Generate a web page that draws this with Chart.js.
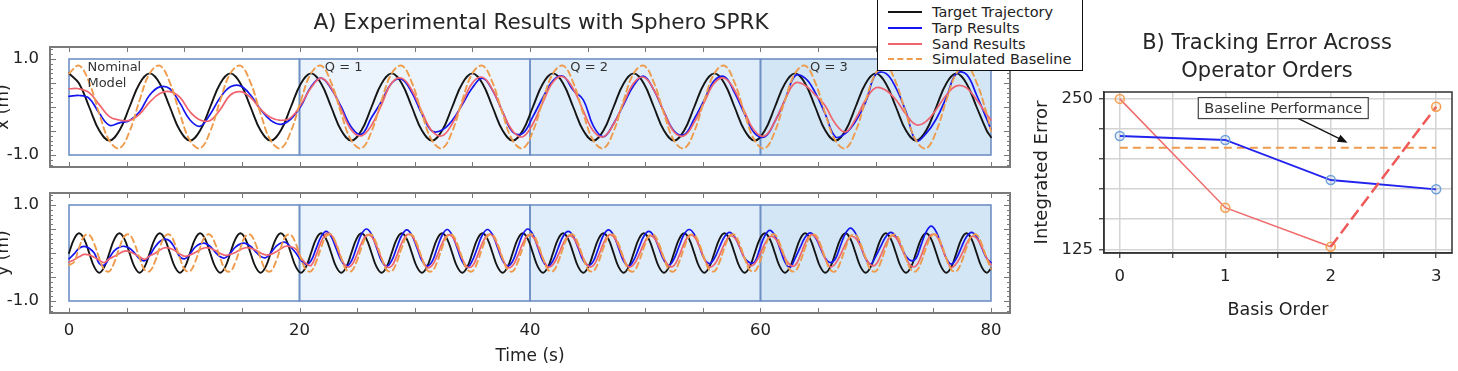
<!DOCTYPE html>
<html>
<head>
<meta charset="utf-8">
<script src="https://cdn.jsdelivr.net/npm/chart.js@4.4.0/dist/chart.umd.min.js"></script>
<style>
  body { margin: 0; background: #fff; width: 1458px; height: 371px; overflow: hidden; position: relative; font-family: "DejaVu Sans", sans-serif; }
  canvas { position: absolute; }
  .title { position: absolute; color: #262626; text-align: center; white-space: nowrap; z-index: 2; }
  #legend { position: absolute; left: 877px; top: -1px; width: 204px; height: 70px; border: 1.5px solid #111; background: #fff; z-index: 3; }
  #legend .item { position: absolute; left: 0; height: 16px; line-height: 16px; font-size: 14.5px; color: #222; white-space: nowrap; }
  #legend .swatch { position: absolute; left: 10px; top: 7px; width: 34px; height: 0; }
  #legend .label { position: absolute; left: 54px; top: 0; }
</style>
</head>
<body>
<div class="title" style="left:241px; top:9px; width:600px; font-size:21.5px; line-height:26px;">A) Experimental Results with Sphero SPRK</div>
<div class="title" style="left:1067px; top:28px; width:400px; font-size:21px; line-height:28px;">B) Tracking Error Across<br>Operator Orders</div>
<div id="legend">
  <div class="item" style="top:4px"><span class="swatch" style="border-top:2px solid #151515"></span><span class="label">Target Trajectory</span></div>
  <div class="item" style="top:19.5px"><span class="swatch" style="border-top:2px solid #1515f0"></span><span class="label">Tarp Results</span></div>
  <div class="item" style="top:35.5px"><span class="swatch" style="border-top:2px solid #f0646e"></span><span class="label">Sand Results</span></div>
  <div class="item" style="top:51px"><span class="swatch" style="border-top:2px dashed #ef9b4c"></span><span class="label">Simulated Baseline</span></div>
</div>
<canvas id="cx" width="1020" height="180" style="left:0; top:0;"></canvas>
<canvas id="cy" width="1020" height="191" style="left:0; top:180px;"></canvas>
<canvas id="ce" width="438" height="243" style="left:1020px; top:80px;"></canvas>
<script>
// ---- panel A : sample steps (s) ----
const xStep = 0.875;   // x (m) panel
const yStep = 0.4375;  // y (m) panel
const regionEdges = [0, 20, 40, 60, 80];
const timeTicks = [0, 20, 40, 60, 80];
const posTicks = [-1, 1];

// x (m)
const xTarget = [
  0.70, 0.49, 0, -0.49, -0.70, -0.49, 0, 0.49,
  0.70, 0.49, 0, -0.49, -0.70, -0.49, 0, 0.49,
  0.70, 0.49, 0, -0.49, -0.70, -0.49, 0, 0.49,
  0.70, 0.49, 0, -0.49, -0.70, -0.49, 0, 0.49,
  0.70, 0.49, 0, -0.49, -0.70, -0.49, 0, 0.49,
  0.70, 0.49, 0, -0.49, -0.70, -0.49, 0, 0.49,
  0.70, 0.49, 0, -0.49, -0.70, -0.49, 0, 0.49,
  0.70, 0.49, 0, -0.49, -0.70, -0.49, 0, 0.49,
  0.70, 0.49, 0, -0.49, -0.70, -0.49, 0, 0.49,
  0.70, 0.49, 0, -0.49, -0.70, -0.49, 0, 0.49,
  0.70, 0.49, 0, -0.49, -0.70, -0.49, 0, 0.49,
  0.70, 0.49, 0, -0.49, -0.63
];
const xTarp = [
  0.22, 0.24, 0.18, -0.13, -0.38, -0.33, -0.28, -0.10,
  0.25, 0.42, 0.38, 0.08, -0.27, -0.40, -0.15, 0.20,
  0.42, 0.44, 0.25, -0.05, -0.28, -0.36, -0.25, 0.02,
  0.42, 0.60, 0.38, 0.00, -0.42, -0.57, -0.22, 0.12,
  0.50, 0.58, 0.30, -0.15, -0.50, -0.48, -0.28, 0.05,
  0.40, 0.60, 0.35, -0.10, -0.52, -0.55, -0.20, 0.20,
  0.55, 0.64, 0.35, 0.15, -0.40, -0.62, -0.35, 0.05,
  0.45, 0.64, 0.35, -0.10, -0.50, -0.58, -0.25, 0.15,
  0.55, 0.63, 0.30, -0.15, -0.55, -0.62, -0.30, 0.15,
  0.65, 0.60, 0.30, -0.15, -0.62, -0.55, -0.30, 0.10,
  0.68, 0.70, 0.40, -0.10, -0.70, -0.55, -0.25, 0.20,
  0.70, 0.68, 0.25, -0.25, -0.47
];
const xSand = [
  0.38, 0.38, 0.30, 0.05, -0.20, -0.27, -0.28, -0.15,
  0.10, 0.28, 0.32, 0.20, -0.10, -0.27, -0.28, -0.05,
  0.25, 0.32, 0.20, -0.05, -0.22, -0.28, -0.22, 0.05,
  0.40, 0.60, 0.40, -0.05, -0.48, -0.60, -0.38, 0.05,
  0.50, 0.60, 0.35, -0.10, -0.50, -0.60, -0.35, 0.08,
  0.50, 0.62, 0.36, -0.10, -0.50, -0.62, -0.35, 0.10,
  0.52, 0.63, 0.38, -0.08, -0.50, -0.62, -0.36, 0.08,
  0.50, 0.62, 0.36, -0.10, -0.52, -0.60, -0.32, 0.10,
  0.50, 0.60, 0.35, -0.10, -0.50, -0.60, -0.30, 0.15,
  0.50, 0.45, 0.25, 0.02, -0.35, -0.52, -0.25, 0.15,
  0.40, 0.35, 0.15, -0.15, -0.37, -0.30, -0.05, 0.25,
  0.44, 0.40, 0.15, -0.15, -0.27
];
const xBaseline = [
  0.70, 0.86, 0.51, -0.14, -0.70, -0.86, -0.51, 0.14,
  0.70, 0.86, 0.51, -0.14, -0.70, -0.86, -0.51, 0.14,
  0.70, 0.86, 0.51, -0.14, -0.70, -0.86, -0.51, 0.14,
  0.70, 0.86, 0.51, -0.14, -0.70, -0.86, -0.51, 0.14,
  0.70, 0.86, 0.51, -0.14, -0.70, -0.86, -0.51, 0.14,
  0.70, 0.86, 0.51, -0.14, -0.70, -0.86, -0.51, 0.14,
  0.70, 0.86, 0.51, -0.14, -0.70, -0.86, -0.51, 0.14,
  0.70, 0.86, 0.51, -0.14, -0.70, -0.86, -0.51, 0.14,
  0.70, 0.86, 0.51, -0.14, -0.70, -0.86, -0.51, 0.14,
  0.70, 0.86, 0.51, -0.14, -0.70, -0.86, -0.51, 0.14,
  0.70, 0.86, 0.51, -0.14, -0.70, -0.86, -0.51, 0.14,
  0.70, 0.86, 0.51, -0.14, -0.50
];

// y (m)
const yTarget = [
  0, 0.29, 0.41, 0.29, 0, -0.29, -0.41, -0.29,
  0, 0.29, 0.41, 0.29, 0, -0.29, -0.41, -0.29,
  0, 0.29, 0.41, 0.29, 0, -0.29, -0.41, -0.29,
  0, 0.29, 0.41, 0.29, 0, -0.29, -0.41, -0.29,
  0, 0.29, 0.41, 0.29, 0, -0.29, -0.41, -0.29,
  0, 0.29, 0.41, 0.29, 0, -0.29, -0.41, -0.29,
  0, 0.29, 0.41, 0.29, 0, -0.29, -0.41, -0.29,
  0, 0.29, 0.41, 0.29, 0, -0.29, -0.41, -0.29,
  0, 0.29, 0.41, 0.29, 0, -0.29, -0.41, -0.29,
  0, 0.29, 0.41, 0.29, 0, -0.29, -0.41, -0.29,
  0, 0.29, 0.41, 0.29, 0, -0.29, -0.41, -0.29,
  0, 0.29, 0.41, 0.29, 0, -0.29, -0.41, -0.29,
  0, 0.29, 0.41, 0.29, 0, -0.29, -0.41, -0.29,
  0, 0.29, 0.41, 0.29, 0, -0.29, -0.41, -0.29,
  0, 0.29, 0.41, 0.29, 0, -0.29, -0.41, -0.29,
  0, 0.29, 0.41, 0.29, 0, -0.29, -0.41, -0.29,
  0, 0.29, 0.41, 0.29, 0, -0.29, -0.41, -0.29,
  0, 0.29, 0.41, 0.29, 0, -0.29, -0.41, -0.29,
  0, 0.29, 0.41, 0.29, 0, -0.29, -0.41, -0.29,
  0, 0.29, 0.41, 0.29, 0, -0.29, -0.41, -0.29,
  0, 0.29, 0.41, 0.29, 0, -0.29, -0.41, -0.29,
  0, 0.29, 0.41, 0.29, 0, -0.29, -0.41, -0.29,
  0, 0.29, 0.41, 0.29, 0, -0.29, -0.41, -0.32
];
const yTarp = [
  -0.12, -0.02, 0.10, 0.14, 0.10, 0.00, -0.22, -0.25,
  -0.10, 0.05, 0.12, 0.14, 0.10, 0.00, -0.12, -0.16,
  -0.05, 0.12, 0.24, 0.29, 0.25, 0.10, -0.08, -0.12,
  -0.02, 0.12, 0.19, 0.20, 0.14, 0.02, -0.08, -0.10,
  0.00, 0.12, 0.19, 0.20, 0.14, 0.03, -0.07, -0.10,
  0.00, 0.13, 0.21, 0.22, 0.12, 0.00, -0.15, -0.24,
  -0.16, 0.09, 0.34, 0.45, 0.34, 0.09, -0.16, -0.27,
  -0.17, 0.11, 0.39, 0.50, 0.39, 0.11, -0.17, -0.28,
  -0.16, 0.11, 0.37, 0.48, 0.37, 0.11, -0.16, -0.27,
  -0.18, 0.10, 0.37, 0.49, 0.37, 0.10, -0.18, -0.30,
  -0.16, 0.11, 0.38, 0.49, 0.38, 0.11, -0.16, -0.27,
  -0.17, 0.11, 0.39, 0.50, 0.39, 0.11, -0.17, -0.28,
  -0.16, 0.10, 0.35, 0.45, 0.35, 0.10, -0.16, -0.26,
  -0.17, 0.10, 0.37, 0.48, 0.37, 0.10, -0.17, -0.28,
  -0.15, 0.10, 0.35, 0.45, 0.35, 0.10, -0.15, -0.25,
  -0.12, 0.14, 0.39, 0.49, 0.39, 0.14, -0.12, -0.22,
  -0.11, 0.12, 0.34, 0.43, 0.34, 0.12, -0.11, -0.20,
  -0.19, 0.09, 0.36, 0.47, 0.36, 0.09, -0.19, -0.30,
  -0.11, 0.11, 0.33, 0.42, 0.33, 0.11, -0.11, -0.20,
  -0.12, 0.15, 0.41, 0.52, 0.41, 0.15, -0.12, -0.23,
  -0.07, 0.14, 0.34, 0.43, 0.34, 0.14, -0.07, -0.16,
  -0.11, 0.17, 0.44, 0.56, 0.44, 0.17, -0.11, -0.23,
  -0.11, 0.12, 0.34, 0.43, 0.34, 0.12, -0.11, -0.20
];
const ySand = [
  -0.19, -0.14, -0.08, -0.03, -0.04, -0.09, -0.15, -0.20,
  -0.12, -0.07, -0.01, 0.04, 0.03, -0.02, -0.08, -0.13,
  -0.06, -0.01, 0.06, 0.11, 0.10, 0.05, -0.02, -0.07,
  -0.04, 0.01, 0.07, 0.11, 0.10, 0.05, -0.01, -0.05,
  -0.03, 0.01, 0.07, 0.11, 0.10, 0.06, 0.00, -0.04,
  -0.03, 0.02, 0.09, 0.14, 0.13, 0.08, -0.10, -0.22,
  -0.26, -0.05, 0.23, 0.40, 0.38, 0.17, -0.11, -0.28,
  -0.26, -0.06, 0.20, 0.37, 0.34, 0.14, -0.12, -0.29,
  -0.27, -0.06, 0.21, 0.38, 0.36, 0.15, -0.12, -0.30,
  -0.26, -0.06, 0.20, 0.37, 0.34, 0.14, -0.12, -0.29,
  -0.27, -0.06, 0.21, 0.38, 0.36, 0.15, -0.12, -0.30,
  -0.26, -0.06, 0.20, 0.37, 0.34, 0.14, -0.12, -0.29,
  -0.24, -0.05, 0.19, 0.35, 0.32, 0.13, -0.11, -0.27,
  -0.26, -0.06, 0.20, 0.37, 0.34, 0.14, -0.12, -0.29,
  -0.24, -0.05, 0.19, 0.35, 0.32, 0.13, -0.11, -0.27,
  -0.26, -0.06, 0.20, 0.37, 0.34, 0.14, -0.12, -0.29,
  -0.24, -0.05, 0.19, 0.35, 0.32, 0.13, -0.11, -0.27,
  -0.22, -0.04, 0.19, 0.34, 0.31, 0.13, -0.10, -0.25,
  -0.26, -0.06, 0.20, 0.37, 0.34, 0.14, -0.12, -0.29,
  -0.22, -0.04, 0.19, 0.34, 0.31, 0.13, -0.10, -0.25,
  -0.24, -0.05, 0.19, 0.35, 0.32, 0.13, -0.11, -0.27,
  -0.27, -0.06, 0.21, 0.38, 0.36, 0.15, -0.12, -0.30,
  -0.22, -0.04, 0.19, 0.34, 0.31, 0.13, -0.10, -0.25
];
const yBaseline = [
  -0.25, -0.19, 0.11, 0.35, 0.38, 0.19, -0.11, -0.35,
  -0.38, -0.19, 0.11, 0.35, 0.38, 0.19, -0.11, -0.35,
  -0.38, -0.19, 0.11, 0.35, 0.38, 0.19, -0.11, -0.35,
  -0.38, -0.19, 0.11, 0.35, 0.38, 0.19, -0.11, -0.35,
  -0.38, -0.19, 0.11, 0.35, 0.38, 0.19, -0.11, -0.35,
  -0.38, -0.19, 0.11, 0.35, 0.38, 0.19, -0.11, -0.35,
  -0.38, -0.19, 0.11, 0.35, 0.38, 0.19, -0.11, -0.35,
  -0.38, -0.19, 0.11, 0.35, 0.38, 0.19, -0.11, -0.35,
  -0.38, -0.19, 0.11, 0.35, 0.38, 0.19, -0.11, -0.35,
  -0.38, -0.19, 0.11, 0.35, 0.38, 0.19, -0.11, -0.35,
  -0.38, -0.19, 0.11, 0.35, 0.38, 0.19, -0.11, -0.35,
  -0.38, -0.19, 0.11, 0.35, 0.38, 0.19, -0.11, -0.35,
  -0.38, -0.19, 0.11, 0.35, 0.38, 0.19, -0.11, -0.35,
  -0.38, -0.19, 0.11, 0.35, 0.38, 0.19, -0.11, -0.35,
  -0.38, -0.19, 0.11, 0.35, 0.38, 0.19, -0.11, -0.35,
  -0.38, -0.19, 0.11, 0.35, 0.38, 0.19, -0.11, -0.35,
  -0.38, -0.19, 0.11, 0.35, 0.38, 0.19, -0.11, -0.35,
  -0.38, -0.19, 0.11, 0.35, 0.38, 0.19, -0.11, -0.35,
  -0.38, -0.19, 0.11, 0.35, 0.38, 0.19, -0.11, -0.35,
  -0.38, -0.19, 0.11, 0.35, 0.38, 0.19, -0.11, -0.35,
  -0.38, -0.19, 0.11, 0.35, 0.38, 0.19, -0.11, -0.35,
  -0.38, -0.19, 0.11, 0.35, 0.38, 0.19, -0.11, -0.35,
  -0.38, -0.19, 0.11, 0.35, 0.38, 0.19, -0.11, -0.33
];

// ---- panel B ----
const basisOrder = [0, 1, 2, 3];
const tarpError = [218.8, 215.5, 182.4, 174.7];
const sandError = [249.5, 159.5, 127.2, 243.0];
const baselineError = 209.1;
const errorTicks = [125, 150, 175, 200, 225, 250];
const errorLabels = [125, 250];
const orderTicks = [0, 0.5, 1, 1.5, 2, 2.5, 3];

// sample times (last sample sits on the 80 s end)
const tX = xTarget.map((_, i) => (i === xTarget.length - 1 ? 80 : i * xStep));
const tY = yTarget.map((_, i) => (i === yTarget.length - 1 ? 80 : i * yStep));

Chart.defaults.font.family = "'DejaVu Sans', sans-serif";
Chart.defaults.color = '#222';

const regionFill = ['#ffffff', '#ebf4fc', '#deedf9', '#d2e6f6'];

function pts(times, vals) {
    return vals.map((v, i) => ({ x: times[i], y: v }));
}

function lineSets(times, target, tarp, sand, base) {
    return [
        { data: pts(times, target), borderColor: '#151515', borderWidth: 1.9, order: 4 },
        { data: pts(times, tarp), borderColor: '#1515f0', borderWidth: 1.7, order: 3 },
        { data: pts(times, sand), borderColor: '#f0646e', borderWidth: 1.7, order: 2 },
        { data: pts(times, base), borderColor: '#ef9b4c', borderWidth: 1.9, borderDash: [6, 4], order: 1 }
    ];
}

// keep the axis label overflow from shrinking the plot box
function noEdgePad(s) {
    s.paddingTop = 0;
    s.paddingBottom = 0;
    s.paddingLeft = 0;
    s.paddingRight = 0;
}

// shaded operator regions, frame, inward ticks, notes
function panelPlugin(notes) {
    return {
        id: 'panels',
        beforeDatasetsDraw(chart) {
            const { ctx, scales: { x, y } } = chart;
            const top = y.getPixelForValue(1), bottom = y.getPixelForValue(-1);
            ctx.save();
            for (let i = 0; i < regionEdges.length - 1; i++) {
                const l = x.getPixelForValue(regionEdges[i]);
                const r = x.getPixelForValue(regionEdges[i + 1]);
                ctx.fillStyle = regionFill[i];
                ctx.fillRect(l, top, r - l, bottom - top);
            }
            ctx.strokeStyle = '#6f90c6';
            ctx.lineWidth = 1.6;
            for (let i = 0; i < regionEdges.length - 1; i++) {
                const l = x.getPixelForValue(regionEdges[i]);
                const r = x.getPixelForValue(regionEdges[i + 1]);
                ctx.strokeRect(l, top, r - l, bottom - top);
            }
            ctx.restore();
        },
        afterDatasetsDraw(chart) {
            const { ctx, scales: { x, y } } = chart;
            ctx.save();
            ctx.font = "13px 'DejaVu Sans'";
            ctx.fillStyle = '#333';
            ctx.textBaseline = 'middle';
            notes.forEach(n => ctx.fillText(n.text, x.getPixelForValue(n.t), y.getPixelForValue(n.v)));
            ctx.restore();
        },
        afterDraw(chart) {
            const { ctx, chartArea: a, scales: { x, y } } = chart;
            ctx.save();
            ctx.strokeStyle = '#777';
            ctx.lineWidth = 1;
            ctx.beginPath();
            for (let t = 0; t <= 80; t += 5) {
                const px = Math.round(x.getPixelForValue(t)) + 0.5;
                ctx.moveTo(px, a.top); ctx.lineTo(px, a.top + 5);
                ctx.moveTo(px, a.bottom); ctx.lineTo(px, a.bottom - 5);
            }
            for (let i = -12; i <= 12; i++) {
                const py = Math.round(y.getPixelForValue(i / 10)) + 0.5;
                const len = i % 5 === 0 ? 6 : 3;
                ctx.moveTo(a.left, py); ctx.lineTo(a.left + len, py);
                ctx.moveTo(a.right, py); ctx.lineTo(a.right - len, py);
            }
            ctx.stroke();
            ctx.strokeStyle = '#7a7a7a';
            ctx.lineWidth = 2;
            ctx.strokeRect(a.left, a.top, a.right - a.left, a.bottom - a.top);
            ctx.restore();
        }
    };
}

function posAxis(title) {
    return {
        min: -1.25, max: 1.25,
        grid: { display: false, drawTicks: false },
        border: { display: false },
        afterBuildTicks: s => { s.ticks = posTicks.map(v => ({ value: v })); },
        ticks: { font: { size: 16.5 }, color: '#222', padding: 11, callback: v => v.toFixed(1) },
        title: { display: true, text: title, font: { size: 17 }, color: '#222', padding: { top: -7 } },
        afterFit: s => { s.width = 50; noEdgePad(s); }
    };
}

const common = {
    responsive: false,
    animation: false,
    events: [],
    elements: { point: { radius: 0 }, line: { tension: 0.4, borderCapStyle: 'round' } },
    plugins: { legend: { display: false }, tooltip: { enabled: false } }
};

new Chart(document.getElementById('cx'), {
    type: 'line',
    data: { datasets: lineSets(tX, xTarget, xTarp, xSand, xBaseline) },
    options: Object.assign({}, common, {
        layout: { padding: { top: 47, right: 10, bottom: 13, left: 0 } },
        scales: {
            x: { type: 'linear', min: -1.65, max: 81.65, display: false },
            y: posAxis('x (m)')
        }
    }),
    plugins: [panelPlugin([
        { text: 'Nominal', t: 1.6, v: 0.81 },
        { text: 'Model', t: 1.6, v: 0.49 },
        { text: 'Q = 1', t: 22.2, v: 0.81 },
        { text: 'Q = 2', t: 43.5, v: 0.81 },
        { text: 'Q = 3', t: 64.3, v: 0.81 }
    ])]
});

new Chart(document.getElementById('cy'), {
    type: 'line',
    data: { datasets: lineSets(tY, yTarget, yTarp, ySand, yBaseline) },
    options: Object.assign({}, common, {
        layout: { padding: { top: 13, right: 10, bottom: 0, left: 0 } },
        scales: {
            x: {
                type: 'linear', min: -1.65, max: 81.65,
                grid: { display: false, drawTicks: false },
                border: { display: false },
                afterBuildTicks: s => { s.ticks = timeTicks.map(v => ({ value: v })); },
                ticks: { font: { size: 16.5 }, color: '#222', padding: 8, maxRotation: 0 },
                title: { display: true, text: 'Time (s)', font: { size: 17 }, color: '#222', padding: { bottom: 4 } },
                afterFit: s => { s.height = 58; noEdgePad(s); }
            },
            y: posAxis('y (m)')
        }
    }),
    plugins: [panelPlugin([])]
});

// panel B
const errorPlugin = {
    id: 'errorNote',
    afterDraw(chart) {
        const { ctx, chartArea: a, scales: { x, y } } = chart;
        ctx.save();
        ctx.strokeStyle = '#333';
        ctx.lineWidth = 1.5;
        ctx.strokeRect(a.left, a.top, a.right - a.left, a.bottom - a.top);

        const x0 = x.getPixelForValue(1.69), y0 = y.getPixelForValue(233.4);
        const x1 = x.getPixelForValue(2.16), y1 = y.getPixelForValue(213.3);
        const ang = Math.atan2(y1 - y0, x1 - x0);
        ctx.strokeStyle = '#111';
        ctx.fillStyle = '#111';
        ctx.lineWidth = 1.3;
        ctx.beginPath();
        ctx.moveTo(x0, y0);
        ctx.lineTo(x1 - 8 * Math.cos(ang), y1 - 8 * Math.sin(ang));
        ctx.stroke();
        ctx.beginPath();
        ctx.moveTo(x1, y1);
        ctx.lineTo(x1 - 10 * Math.cos(ang) + 4 * Math.sin(ang), y1 - 10 * Math.sin(ang) - 4 * Math.cos(ang));
        ctx.lineTo(x1 - 10 * Math.cos(ang) - 4 * Math.sin(ang), y1 - 10 * Math.sin(ang) + 4 * Math.cos(ang));
        ctx.closePath();
        ctx.fill();

        const text = 'Baseline Performance';
        ctx.font = "14.5px 'DejaVu Sans'";
        const cx = x.getPixelForValue(1.55), cy = y.getPixelForValue(241.9);
        const w = ctx.measureText(text).width + 12, h = 21;
        ctx.fillStyle = '#fff';
        ctx.fillRect(cx - w / 2, cy - h / 2, w, h);
        ctx.strokeStyle = '#444';
        ctx.lineWidth = 1.2;
        ctx.strokeRect(cx - w / 2, cy - h / 2, w, h);
        ctx.fillStyle = '#333';
        ctx.textAlign = 'center';
        ctx.textBaseline = 'middle';
        ctx.fillText(text, cx, cy + 1);
        ctx.restore();
    }
};

const gridStyle = { color: '#d4d4d4', lineWidth: 1.5, drawTicks: true, tickLength: 5, tickColor: '#333', tickWidth: 1.2 };

new Chart(document.getElementById('ce'), {
    type: 'line',
    data: {
        datasets: [
            {
                data: basisOrder.map(o => ({ x: o, y: baselineError })),
                borderColor: '#ef9b4c', borderWidth: 2, borderDash: [8, 5], pointRadius: 0, order: 4
            },
            {
                data: pts(basisOrder, tarpError),
                borderColor: '#2222ee', borderWidth: 1.8,
                pointRadius: 4.5, pointBorderWidth: 1.5, pointBorderColor: '#6fa0d8',
                pointBackgroundColor: 'rgba(111,160,216,0.15)', order: 2
            },
            {
                data: pts(basisOrder.slice(0, 3), sandError.slice(0, 3)),
                borderColor: '#f06a6a', borderWidth: 1.5,
                pointRadius: 4.5, pointBorderWidth: 1.5, pointBorderColor: '#f5a050',
                pointBackgroundColor: 'rgba(245,160,80,0.15)', order: 3
            },
            {
                data: pts(basisOrder.slice(2), sandError.slice(2)),
                borderColor: '#ee5a5a', borderWidth: 2.5, borderDash: [12, 5],
                pointRadius: [0, 4.5], pointBorderWidth: 1.5, pointBorderColor: '#f5a050',
                pointBackgroundColor: 'rgba(245,160,80,0.15)', order: 1
            }
        ]
    },
    options: Object.assign({}, common, {
        elements: { line: { tension: 0 } },
        layout: { padding: { top: 12, right: 2, bottom: 0, left: 0 } },
        scales: {
            x: {
                type: 'linear', min: -0.15, max: 3.15,
                grid: gridStyle,
                border: { color: '#333', width: 1.5 },
                afterBuildTicks: s => { s.ticks = orderTicks.map(v => ({ value: v })); },
                ticks: { font: { size: 16.5 }, color: '#222', padding: 9, maxRotation: 0,
                    callback: v => (Number.isInteger(v) ? String(v) : '') },
                title: { display: true, text: 'Basis Order', font: { size: 17.5 }, color: '#222', padding: { bottom: 2 } },
                afterFit: s => { s.height = 70; noEdgePad(s); }
            },
            y: {
                min: 122, max: 255.2,
                grid: gridStyle,
                border: { color: '#333', width: 1.5 },
                afterBuildTicks: s => { s.ticks = errorTicks.map(v => ({ value: v })); },
                ticks: { font: { size: 16.5 }, color: '#222', padding: 6,
                    callback: v => (errorLabels.includes(v) ? String(v) : '') },
                title: { display: true, text: 'Integrated Error', font: { size: 18 }, color: '#222', padding: { top: 12 } },
                afterFit: s => { s.width = 84; noEdgePad(s); }
            }
        }
    }),
    plugins: [errorPlugin]
});
</script>
</body>
</html>
